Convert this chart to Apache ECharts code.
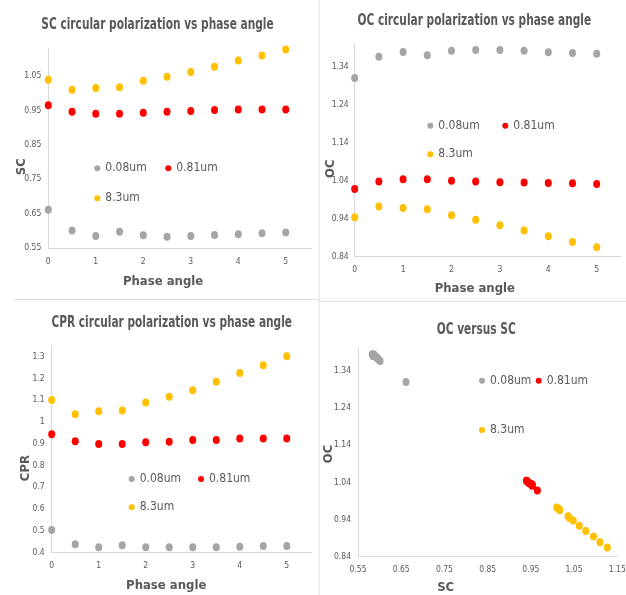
<!DOCTYPE html>
<html><head><meta charset="utf-8">
<script src="https://cdn.jsdelivr.net/npm/echarts@6/dist/echarts.min.js"></script>
<style>html,body{margin:0;padding:0;background:#fff}#c{width:626px;height:595px}</style>
</head><body><div id="c"></div>
<script>
const phaseAngles = [0, 0.5, 1, 1.5, 2, 2.5, 3, 3.5, 4, 4.5, 5];
const sizeNames = ['0.08um', '0.81um', '8.3um'];
const sc_008 = [0.661, 0.601, 0.585, 0.597, 0.587, 0.583, 0.585, 0.588, 0.590, 0.593, 0.595];
const sc_081 = [0.965, 0.946, 0.940, 0.940, 0.943, 0.946, 0.948, 0.951, 0.953, 0.953, 0.953];
const sc_83  = [1.039, 1.010, 1.015, 1.017, 1.036, 1.048, 1.062, 1.077, 1.095, 1.110, 1.127];
const oc_008 = [1.310, 1.366, 1.379, 1.370, 1.382, 1.384, 1.384, 1.382, 1.378, 1.376, 1.374];
const oc_081 = [1.018, 1.038, 1.044, 1.044, 1.040, 1.038, 1.036, 1.035, 1.034, 1.033, 1.031];
const oc_83  = [0.944, 0.972, 0.968, 0.965, 0.949, 0.937, 0.923, 0.909, 0.894, 0.879, 0.865];
const cpr_008 = [0.503, 0.437, 0.423, 0.432, 0.423, 0.423, 0.423, 0.423, 0.426, 0.429, 0.429];
const cpr_081 = [0.943, 0.911, 0.898, 0.898, 0.906, 0.909, 0.917, 0.917, 0.923, 0.923, 0.923];
const cpr_83  = [1.101, 1.035, 1.049, 1.052, 1.089, 1.116, 1.145, 1.185, 1.225, 1.260, 1.302];
const panelTitles = ['SC circular polarization vs phase angle', 'OC circular polarization vs phase angle',
  'CPR circular polarization vs phase angle', 'OC versus SC'];

const FONT = '"Liberation Sans Narrow", "DejaVu Sans Condensed", sans-serif';
const TXT = '#595959';
const colors = ['#A5A5A5', '#FF0000', '#FFC000'];

const scSets = [sc_008, sc_081, sc_83];
const ocSets = [oc_008, oc_081, oc_83];
const cprSets = [cpr_008, cpr_081, cpr_83];

const grids = [
  {left: 48.3, top: 48.5, width: 263.6, height: 199.5},
  {left: 354.7, top: 43.9, width: 266.2, height: 212.8},
  {left: 51.7, top: 345.8, width: 260, height: 206.5},
  {left: 358, top: 348.4, width: 259.3, height: 208.3}
].map(g => Object.assign({outerBoundsMode: 'none', containLabel: false}, g));

function nameStyle(padRight) {
  return {color: TXT, fontFamily: FONT, fontWeight: 'bold', fontSize: 13, padding: [0, padRight, 0, 0]};
}
function axisBase(extra) {
  return Object.assign({
    type: 'value',
    nameMoveOverlap: false,
    axisLine: {show: true, onZero: false, lineStyle: {color: '#d9d9d9', width: 1}},
    axisTick: {show: false},
    splitLine: {show: false}
  }, extra);
}
function lbl(margin, showMax) {
  return {color: TXT, fontSize: 8.5, fontFamily: FONT, margin: margin, showMaxLabel: showMax};
}

const xAxes = [
  axisBase({gridIndex: 0, min: 0, max: 5.55, interval: 1, axisLabel: lbl(9, false),
    name: 'Phase angle', nameLocation: 'middle', nameGap: 27.5, nameTextStyle: nameStyle(34)}),
  axisBase({gridIndex: 1, min: 0, max: 5.5, interval: 1, axisLabel: lbl(9, false),
    name: 'Phase angle', nameLocation: 'middle', nameGap: 25, nameTextStyle: nameStyle(26)}),
  axisBase({gridIndex: 2, min: 0, max: 5.53, interval: 1, axisLabel: lbl(9, false),
    name: 'Phase angle', nameLocation: 'middle', nameGap: 27, nameTextStyle: nameStyle(31)}),
  axisBase({gridIndex: 3, min: 0.55, max: 1.15, interval: 0.1, axisLabel: lbl(9, true),
    name: 'SC', nameLocation: 'middle', nameGap: 24, nameTextStyle: nameStyle(84)})
];
const yAxes = [
  axisBase({gridIndex: 0, min: 0.55, max: 1.13, interval: 0.1, axisLabel: lbl(7, false),
    name: 'SC', nameLocation: 'middle', nameGap: 19.8, nameRotate: 90, nameTextStyle: nameStyle(37)}),
  axisBase({gridIndex: 1, min: 0.84, max: 1.40, interval: 0.1, axisLabel: lbl(6, false),
    name: 'OC', nameLocation: 'middle', nameGap: 17.2, nameRotate: 90, nameTextStyle: nameStyle(37)}),
  axisBase({gridIndex: 2, min: 0.4, max: 1.35, interval: 0.1, axisLabel: lbl(7, false),
    name: 'CPR', nameLocation: 'middle', nameGap: 19.4, nameRotate: 90, nameTextStyle: nameStyle(38)}),
  axisBase({gridIndex: 3, min: 0.84, max: 1.40, interval: 0.1, axisLabel: lbl(7, false),
    name: 'OC', nameLocation: 'middle', nameGap: 22.5, nameRotate: 90, nameTextStyle: nameStyle(3)})
];

const series = [];
const panelY = [scSets, ocSets, cprSets];
for (let p = 0; p < 3; p++) {
  for (let s = 0; s < 3; s++) {
    series.push({
      type: 'scatter', name: sizeNames[s], xAxisIndex: p, yAxisIndex: p,
      symbol: 'circle', symbolSize: [7, 8],
      itemStyle: {color: colors[s], opacity: 1},
      data: phaseAngles.map((a, i) => [a, panelY[p][s][i]])
    });
  }
}
for (let s = 0; s < 3; s++) {
  series.push({
    type: 'scatter', name: sizeNames[s], xAxisIndex: 3, yAxisIndex: 3,
    symbol: 'circle', symbolSize: [7, 8],
    itemStyle: {color: colors[s], opacity: 1},
    data: scSets[s].map((v, i) => [v, ocSets[s][i]])
  });
}

// legend item centers per panel: [gray, red, yellow]
const legendPos = [
  [[97.3, 169.3], [168.3, 169.3], [97.3, 199.3]],
  [[430.3, 126.7], [505.3, 126.7], [430.3, 155.3]],
  [[131.7, 480], [201, 480], [131.7, 508.3]],
  [[482, 381.7], [538.7, 381.7], [482, 431]]
];
const legends = [];
legendPos.forEach(panel => panel.forEach((pt, s) => {
  legends.push({
    data: [sizeNames[s]], left: pt[0] - 3, top: pt[1] - 7, padding: 0,
    itemWidth: 6, itemHeight: 8, itemGap: 0, icon: 'circle', selectedMode: false,
    textStyle: {color: TXT, fontSize: 12, fontFamily: FONT, padding: [0, 0, 0, 0]}
  });
}));

const titlePos = [[157.5, 25], [474.3, 21], [171.7, 322.5], [476.2, 330]];
const graphics = titlePos.map((p, i) => ({
  type: 'text', x: p[0], y: p[1], scaleX: 0.76, silent: true,
  style: {text: panelTitles[i], fill: TXT, font: 'bold 15.5px ' + FONT, align: 'center', verticalAlign: 'middle'}
}));
graphics.push(
  {type: 'line', silent: true, shape: {x1: 319, y1: 0, x2: 319, y2: 595}, style: {stroke: '#e0e0e0', lineWidth: 1}},
  {type: 'line', silent: true, shape: {x1: 14, y1: 299.5, x2: 319, y2: 299.5}, style: {stroke: '#e0e0e0', lineWidth: 1}},
  {type: 'line', silent: true, shape: {x1: 319, y1: 301.5, x2: 626, y2: 301.5}, style: {stroke: '#e0e0e0', lineWidth: 1}}
);

const chart = echarts.init(document.getElementById('c'), null, {renderer: 'canvas'});
chart.setOption({
  animation: false,
  backgroundColor: '#ffffff',
  grid: grids,
  xAxis: xAxes,
  yAxis: yAxes,
  legend: legends,
  series: series,
  graphic: graphics
});
</script>
</body></html>
